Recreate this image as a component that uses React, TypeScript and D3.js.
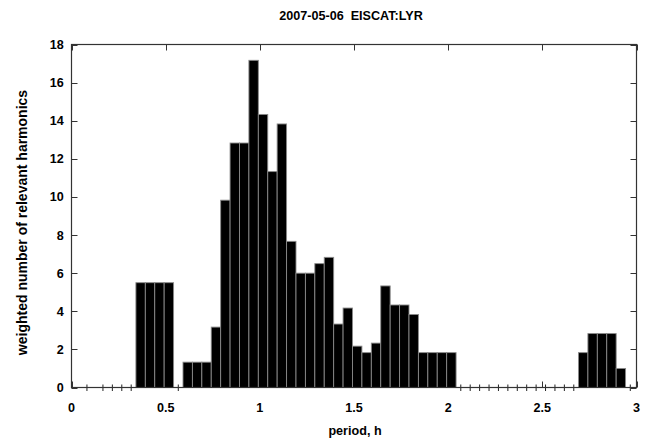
import React from "react";
import * as d3 from "d3";

const title = "2007-05-06  EISCAT:LYR";
const xLabel = "period, h";
const yLabel = "weighted number of relevant harmonics";

// bin centres (hours) and weighted counts; zero weights are empty bins
const periods = [
  0.082, 0.167, 0.217, 0.267, 0.317,
  0.367, 0.417, 0.467, 0.517, 0.567,
  0.617, 0.667, 0.717, 0.767, 0.817, 0.867, 0.917, 0.967,
  1.017, 1.067, 1.117, 1.167, 1.217, 1.267, 1.317, 1.367, 1.417, 1.467,
  1.517, 1.567, 1.617, 1.667, 1.717, 1.767, 1.817, 1.867, 1.917, 1.967,
  2.017, 2.067, 2.117, 2.167, 2.217, 2.267, 2.317, 2.367, 2.417, 2.467,
  2.517, 2.567, 2.617, 2.667, 2.717, 2.767, 2.817, 2.867, 2.917, 2.967,
];
const weights = [
  0, 0, 0, 0, 0,
  5.5, 5.5, 5.5, 5.5, 0,
  1.33, 1.33, 1.33, 3.17, 9.83, 12.83, 12.83, 17.17,
  14.33, 11.33, 13.83, 7.67, 6.0, 6.0, 6.5, 6.83, 3.33, 4.17,
  2.17, 1.83, 2.33, 5.33, 4.33, 4.33, 3.83, 1.83, 1.83, 1.83,
  1.83, 0, 0, 0, 0, 0, 0, 0, 0, 0,
  0, 0, 0, 0, 1.83, 2.83, 2.83, 2.83, 1.0, 0,
];
const binWidth = 0.05;
const xTicks = [0, 0.5, 1, 1.5, 2, 2.5, 3];
const yTicks = [0, 2, 4, 6, 8, 10, 12, 14, 16, 18];

const W = 651;
const H = 448;
const left = 71.5;
const right = 636.5;
const top = 44.5;
const bottom = 387.5;

const font = "'Liberation Sans', Arial, Helvetica, sans-serif";

export default function App() {
  const x = d3.scaleLinear().domain([0, 3]).range([left, right]);
  const y = d3.scaleLinear().domain([0, 18]).range([bottom, top]);
  const axisColor = "#333";
  const tickLen = 6;
  const fs = 12.6;

  const data = periods.map((p, i) => ({ p, w: weights[i] }));

  return (
    <svg
      width={W}
      height={H}
      style={{ position: "absolute", left: 0, top: 0, background: "#fff" }}
      fontFamily={font}
    >
      <rect x={0} y={0} width={W} height={H} fill="#fff" />
      {/* bottom ticks (behind bars) */}
      {xTicks.map((t) => (
        <line
          key={"bt" + t}
          x1={Math.round(x(t)) + 0.5}
          x2={Math.round(x(t)) + 0.5}
          y1={bottom}
          y2={bottom - tickLen}
          stroke={axisColor}
          strokeWidth={1}
        />
      ))}
      {/* bars */}
      {data
        .filter((d) => d.w > 0)
        .map((d, i) => (
          <rect
            key={"b" + i}
            x={x(d.p - binWidth / 2)}
            width={x(d.p + binWidth / 2) - x(d.p - binWidth / 2)}
            y={y(d.w)}
            height={y(0) - y(d.w)}
            fill="#000"
            stroke="#8a8a8a"
            strokeWidth={0.9}
          />
        ))}
      {/* empty bins */}
      {data
        .filter((d) => d.w === 0)
        .map((d, i) => (
          <line
            key={"z" + i}
            x1={x(d.p)}
            x2={x(d.p)}
            y1={y(0) - 3}
            y2={y(0) + 3.5}
            stroke="#222"
            strokeWidth={1}
          />
        ))}
      {/* frame */}
      <rect
        x={left}
        y={top}
        width={right - left}
        height={bottom - top}
        fill="none"
        stroke={axisColor}
        strokeWidth={1.2}
      />
      {/* top ticks */}
      {xTicks.map((t) => (
        <line
          key={"tt" + t}
          x1={Math.round(x(t)) + 0.5}
          x2={Math.round(x(t)) + 0.5}
          y1={top}
          y2={top + tickLen}
          stroke={axisColor}
          strokeWidth={1}
        />
      ))}
      {/* left & right ticks */}
      {yTicks.map((t) => (
        <g key={"yt" + t}>
          <line
            x1={left}
            x2={left + tickLen}
            y1={Math.round(y(t)) + 0.5}
            y2={Math.round(y(t)) + 0.5}
            stroke={axisColor}
            strokeWidth={1}
          />
          <line
            x1={right}
            x2={right - tickLen}
            y1={Math.round(y(t)) + 0.5}
            y2={Math.round(y(t)) + 0.5}
            stroke={axisColor}
            strokeWidth={1}
          />
          <text
            x={63.8}
            y={y(t) + 4.5}
            textAnchor="end"
            fontSize={fs}
            fontWeight="bold"
            fill="#000"
          >
            {t}
          </text>
        </g>
      ))}
      {/* x tick labels */}
      {xTicks.map((t) => (
        <text
          key={"xl" + t}
          x={x(t)}
          y={411.5}
          textAnchor="middle"
          fontSize={fs}
          fontWeight="bold"
          fill="#000"
        >
          {String(t)}
        </text>
      ))}
      <text
        x={351}
        y={19.5}
        textAnchor="middle"
        fontSize={fs}
        fontWeight="bold"
        fill="#000"
        style={{ whiteSpace: "pre" }}
      >
        {title}
      </text>
      <text
        x={355}
        y={434.5}
        textAnchor="middle"
        fontSize={fs}
        fontWeight="bold"
        fill="#000"
      >
        {xLabel}
      </text>
      <text
        transform={`translate(27, 222.5) rotate(-90)`}
        textAnchor="middle"
        fontSize={14}
        fontWeight="bold"
        fill="#000"
      >
        {yLabel}
      </text>
    </svg>
  );
}
